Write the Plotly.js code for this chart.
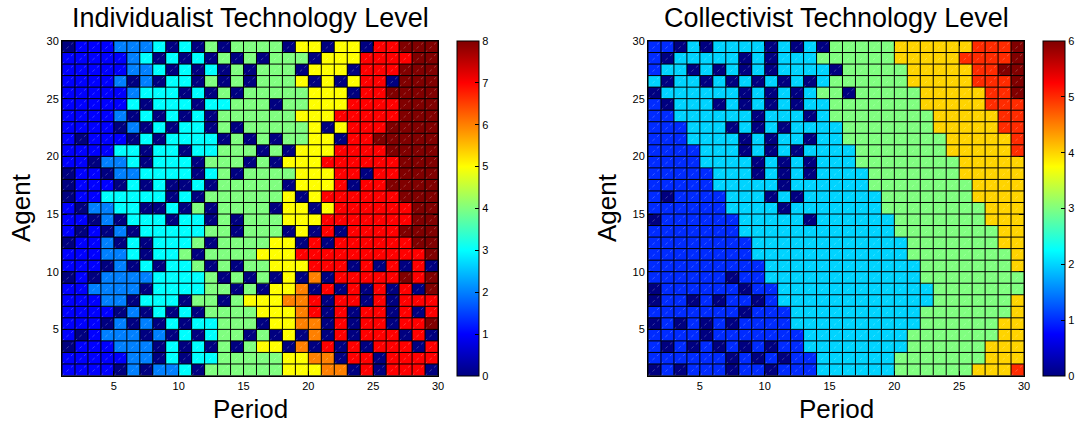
<!DOCTYPE html>
<html>
<head>
<meta charset="utf-8">
<script src="https://cdn.plot.ly/plotly-3.0.1.min.js"></script>
<style>html,body{margin:0;padding:0;background:#fff;}#chart{width:1085px;height:423px;}</style>
</head>
<body>
<div id="chart"></div>
<script>
// Period and agent grid edges (pcolor style: 30 edges -> 29 cells)
const periods = Array.from({length: 30}, (_, i) => i + 1);
const agents = Array.from({length: 30}, (_, i) => i + 1);
const tickVals = [5, 10, 15, 20, 25, 30];

// Individualist technology level, rows listed from top (agent 29-30) to bottom (agent 1-2)
const individualistRows = [
  [0,1,1,1,2,2,2,3,0,3,0,4,0,4, 4,4,4,0,5,5,0,5,5,0,7,7,8,8,8],
  [1,1,1,1,1,2,3,0,3,0,3,0,4,0, 4,0,4,4,4,0,5,5,5,7,7,7,7,8,8],
  [1,1,1,1,1,2,2,3,0,3,0,3,0,4, 0,4,4,4,0,5,5,5,0,7,7,7,8,8,8],
  [1,1,1,1,2,0,2,0,3,3,0,4,0,4, 0,4,4,4,5,0,5,0,5,7,7,0,8,8,8],
  [1,1,1,1,1,2,3,3,3,0,3,0,4,0, 4,4,4,4,4,5,5,5,0,7,7,8,8,8,8],
  [1,1,1,1,1,3,0,3,3,3,0,3,3,4, 4,4,0,4,4,5,5,5,7,7,7,7,8,8,8],
  [1,1,1,1,2,0,3,0,3,0,3,0,4,4, 4,4,4,4,5,5,5,7,7,7,7,7,8,8,8],
  [1,1,1,1,0,2,0,3,0,3,3,0,4,0, 4,4,4,4,4,5,0,5,7,7,7,8,8,8,8],
  [1,0,1,1,1,0,3,0,3,3,3,3,0,4, 0,4,0,4,4,5,5,0,7,7,8,8,8,8,8],
  [1,1,1,1,3,3,0,3,3,0,3,3,4,4, 4,0,4,0,5,5,5,7,7,7,7,8,8,8,8],
  [1,1,0,2,2,3,0,3,3,3,0,4,4,4, 0,4,0,5,5,5,7,7,7,7,7,7,8,8,8],
  [0,1,1,0,2,2,3,3,3,3,0,3,4,0, 4,4,4,4,5,5,5,7,7,0,7,7,8,8,8],
  [0,1,1,1,0,3,0,3,0,0,3,0,4,4, 4,4,4,0,5,5,5,7,0,7,7,8,8,8,8],
  [0,1,1,3,3,3,3,3,0,3,0,4,4,4, 4,4,4,5,0,5,7,7,7,7,7,7,8,8,8],
  [1,0,2,2,3,3,0,0,3,0,4,0,4,4, 4,4,0,5,5,0,5,7,7,7,7,7,7,8,8],
  [1,1,0,2,0,3,3,3,0,3,3,0,4,0, 4,4,4,5,5,5,7,7,7,7,7,7,7,8,8],
  [1,0,1,0,2,0,3,3,3,3,3,4,4,0, 4,4,4,0,5,0,7,0,7,7,7,7,8,8,8],
  [0,1,1,2,0,3,0,3,3,3,4,0,4,4, 4,4,5,5,0,7,0,7,7,7,7,7,7,8,8],
  [1,1,1,2,2,3,0,3,3,4,0,4,4,4, 4,5,5,5,7,7,7,7,7,7,7,7,7,7,8],
  [1,1,1,0,2,0,3,0,3,3,4,0,4,0, 4,4,5,5,5,7,7,7,0,7,0,7,0,7,0],
  [0,1,0,2,2,2,2,3,3,3,3,4,0,4, 0,4,0,5,0,6,0,7,7,7,7,7,8,7,8],
  [1,1,2,2,2,2,0,3,3,3,3,4,4,0, 4,0,5,5,6,0,7,0,7,0,7,0,7,0,8],
  [1,1,1,2,2,0,3,3,3,0,4,4,0,4, 5,5,5,6,6,7,0,7,7,0,7,0,7,7,7],
  [1,1,1,1,0,2,0,3,0,3,0,4,4,4, 4,5,5,5,6,7,0,7,0,7,7,0,7,0,7],
  [1,1,1,0,2,0,2,0,3,0,3,3,4,4, 4,0,5,5,6,6,0,7,0,7,7,0,7,7,8],
  [1,0,1,2,2,2,0,2,0,3,0,3,4,4, 0,4,0,5,0,6,0,7,0,7,7,7,0,7,0],
  [0,1,1,1,2,2,2,0,3,0,3,0,4,0, 4,5,5,0,6,0,7,0,7,0,7,7,7,0,7],
  [1,1,1,1,1,2,2,0,3,0,3,3,4,4, 4,4,4,5,5,6,6,0,7,7,0,7,7,7,7],
  [1,1,1,1,0,2,0,2,2,3,0,4,4,4, 4,4,4,5,5,5,6,6,0,7,0,7,7,7,0]
];

// Collectivist technology level, rows listed from top to bottom
const collectivistRows = [
  [1,1,0,2,0,2,2,2,2,0,2,0,2,0, 3,3,3,3,3,4,4,4,4,4,4,5,5,5,6],
  [1,0,2,2,2,2,2,0,2,0,2,2,2,3, 3,3,3,3,3,4,4,4,4,4,5,5,5,5,6],
  [1,2,2,0,2,0,2,0,2,0,2,2,2,2, 0,3,3,3,3,3,4,4,4,4,4,5,5,6,6],
  [2,0,2,2,0,2,0,2,0,2,0,2,0,2, 3,3,3,3,3,3,4,4,4,4,4,5,5,5,6],
  [0,2,2,2,2,2,2,0,2,0,2,0,2,3, 3,0,3,3,3,3,3,4,4,4,4,4,5,5,6],
  [1,0,2,2,2,0,2,0,2,0,2,0,2,2, 3,3,3,3,3,3,3,4,4,4,4,4,5,5,5],
  [1,1,2,2,2,2,2,2,0,2,2,2,0,2, 3,3,3,3,3,3,3,3,4,4,4,4,4,5,5],
  [1,1,1,2,2,2,0,2,0,2,0,2,2,2, 2,3,3,3,3,3,3,3,4,4,4,4,4,5,5],
  [1,1,1,2,2,2,2,0,2,0,2,2,0,2, 2,3,3,3,3,3,3,3,3,4,4,4,4,4,5],
  [1,1,1,1,2,2,2,0,2,0,2,0,2,2, 2,2,3,3,3,3,3,3,3,4,4,4,4,4,5],
  [1,1,1,1,2,2,2,2,0,2,0,2,0,2, 2,2,3,3,3,3,3,3,3,3,4,4,4,4,4],
  [1,1,1,1,1,2,2,2,0,2,0,2,0,2, 2,2,2,3,3,3,3,3,3,3,4,4,4,4,4],
  [1,1,1,1,1,2,2,2,2,2,0,2,2,2, 2,2,2,3,3,3,3,3,3,3,3,4,4,4,4],
  [1,0,1,1,1,1,2,2,2,0,2,0,2,2, 2,2,2,2,3,3,3,3,3,3,3,4,4,4,4],
  [1,1,1,1,1,1,2,2,2,2,0,2,2,2, 2,2,2,2,3,3,3,3,3,3,3,3,4,4,4],
  [0,1,1,1,1,1,1,2,2,2,2,2,0,2, 2,2,2,2,2,3,3,3,3,3,3,3,4,4,4],
  [1,1,1,1,1,1,1,2,2,2,2,2,2,2, 2,2,2,2,2,3,3,3,3,3,3,3,3,4,4],
  [1,1,1,1,1,1,1,1,2,2,2,2,2,2, 2,2,2,2,2,2,3,3,3,3,3,3,3,4,4],
  [1,1,1,1,1,1,1,1,2,2,2,2,2,2, 2,2,2,2,2,2,3,3,3,3,3,3,3,3,4],
  [1,1,1,1,1,1,1,1,1,2,2,2,2,2, 2,2,2,2,2,2,2,3,3,3,3,3,3,3,4],
  [1,1,1,1,1,1,0,1,1,2,2,2,2,2, 2,2,2,2,2,2,2,3,3,3,3,3,3,3,3],
  [0,1,1,1,1,1,1,0,1,1,2,2,2,2, 2,2,2,2,2,2,2,2,3,3,3,3,3,3,3],
  [0,1,1,0,1,0,1,1,0,1,2,2,2,2, 2,2,2,2,2,2,2,2,3,3,3,3,3,3,4],
  [1,1,1,1,1,1,1,0,1,1,1,2,2,2, 2,2,2,2,2,2,2,3,3,3,3,3,3,3,4],
  [0,1,0,1,0,1,0,1,1,1,1,2,2,2, 2,2,2,2,2,2,2,3,3,3,3,3,3,4,4],
  [1,1,1,1,0,1,1,1,1,1,1,1,2,2, 2,2,2,2,2,2,3,3,3,3,3,3,3,4,4],
  [1,0,1,0,1,0,1,0,1,0,1,1,2,2, 2,2,2,2,2,2,3,3,3,3,3,3,4,4,4],
  [1,1,1,1,1,1,0,1,0,1,0,1,1,2, 2,2,2,2,2,3,3,3,3,3,3,3,4,4,4],
  [0,1,0,1,1,1,0,1,1,0,1,1,1,2, 2,2,2,2,2,3,3,3,3,3,3,4,4,4,5]
];

const individualistTicks = [0, 1, 2, 3, 4, 5, 6, 7, 8];
const collectivistTicks = [0, 1, 2, 3, 4, 5, 6];

// MATLAB-like jet colorscale
function jet(t) {
  const c = v => Math.round(255 * Math.max(0, Math.min(1, v)));
  return 'rgb(' + c(1.5 - Math.abs(4 * t - 3)) + ',' + c(1.5 - Math.abs(4 * t - 2)) + ',' + c(1.5 - Math.abs(4 * t - 1)) + ')';
}
const jetScale = [];
for (let i = 0; i <= 64; i++) jetScale.push([i / 64, jet(i / 64)]);

const W = 1085, H = 423;
const px = x => x / W;
const py = y => (H - y) / H;
const FONT = 'Liberation Sans, Arial, Helvetica, sans-serif';

const plotTop = 41, plotBottom = 375.5;
const leftX = [62, 438], rightX = [648, 1024];

function heat(rows, xa, ya, zmax, ticks, cbLeft) {
  return {
    type: 'heatmap',
    x: periods, y: agents,
    z: rows.slice().reverse(),
    xaxis: xa, yaxis: ya,
    zmin: 0, zmax: zmax,
    colorscale: jetScale,
    hoverinfo: 'skip',
    colorbar: {
      x: px(cbLeft), xanchor: 'left', xpad: 0, ypad: 0,
      y: py(plotTop), yanchor: 'top',
      len: (plotBottom - plotTop) / H, lenmode: 'fraction',
      thickness: 22, thicknessmode: 'pixels',
      outlinecolor: '#000', outlinewidth: 1,
      tickvals: ticks, ticks: 'inside', ticklen: 4, tickcolor: '#000',
      tickfont: {family: FONT, size: 11, color: '#000'}
    }
  };
}

// cell edges (faceted shading), derived from the grid edges
function edges(xa, ya) {
  const xs = [], ys = [];
  const x0 = periods[0], x1 = periods[periods.length - 1];
  const y0 = agents[0], y1 = agents[agents.length - 1];
  periods.forEach(p => { xs.push(p, p, null); ys.push(y0, y1, null); });
  agents.forEach(a => { xs.push(x0, x1, null); ys.push(a, a, null); });
  return {type: 'scatter', mode: 'lines', x: xs, y: ys, xaxis: xa, yaxis: ya,
    line: {color: '#000', width: 1}, hoverinfo: 'skip', showlegend: false};
}
// faint diagonal facets in each cell
function diagonals(xa, ya) {
  const xs = [], ys = [];
  for (let j = 0; j < agents.length - 1; j++) {
    for (let i = 0; i < periods.length - 1; i++) {
      xs.push(periods[i], periods[i + 1], null);
      ys.push(agents[j], agents[j + 1], null);
    }
  }
  return {type: 'scatter', mode: 'lines', x: xs, y: ys, xaxis: xa, yaxis: ya,
    line: {color: 'rgba(255,255,255,0.3)', width: 0.8, dash: 'dot'}, hoverinfo: 'skip', showlegend: false};
}

const data = [
  heat(individualistRows, 'x', 'y', 8, individualistTicks, 457),
  heat(collectivistRows, 'x2', 'y2', 6, collectivistTicks, 1043),
  diagonals('x', 'y'),
  diagonals('x2', 'y2'),
  edges('x', 'y'),
  edges('x2', 'y2')
];

function xax(dom, anchor) {
  return {domain: [px(dom[0]), px(dom[1])], anchor: anchor, range: [1, 30], tickvals: tickVals,
    ticks: 'inside', ticklen: 5, tickcolor: '#000', showline: true, mirror: 'ticks', linecolor: '#000', linewidth: 1,
    showgrid: false, zeroline: false, tickfont: {family: FONT, size: 11, color: '#000'}, fixedrange: true};
}
function yax(anchor) {
  return {domain: [py(plotBottom), py(plotTop)], anchor: anchor, range: [1, 30], tickvals: tickVals,
    ticks: 'inside', ticklen: 5, tickcolor: '#000', showline: true, mirror: 'ticks', linecolor: '#000', linewidth: 1,
    showgrid: false, zeroline: false, tickfont: {family: FONT, size: 11, color: '#000'}, fixedrange: true};
}

const ann = (text, x, y, size, rot) => ({text: text, x: px(x), y: py(y), xref: 'paper', yref: 'paper',
  xanchor: 'center', yanchor: 'middle', showarrow: false, textangle: rot || 0,
  font: {family: FONT, size: size, color: '#000'}});

const layout = {
  width: W, height: H,
  margin: {l: 0, r: 0, t: 0, b: 0},
  paper_bgcolor: '#fff', plot_bgcolor: '#000',
  showlegend: false,
  xaxis: xax(leftX, 'y'), yaxis: yax('x'),
  xaxis2: xax(rightX, 'y2'), yaxis2: yax('x2'),
  annotations: [
    ann('Individualist Technology Level', 250, 18, 27),
    ann('Collectivist Technology Level', 836, 18, 27),
    ann('Period', 250, 409, 26),
    ann('Period', 836, 409, 26),
    ann('Agent', 21, 208, 26, -90),
    ann('Agent', 607, 208, 26, -90)
  ]
};

Plotly.newPlot('chart', data, layout, {staticPlot: true, displayModeBar: false});
</script>
</body>
</html>
